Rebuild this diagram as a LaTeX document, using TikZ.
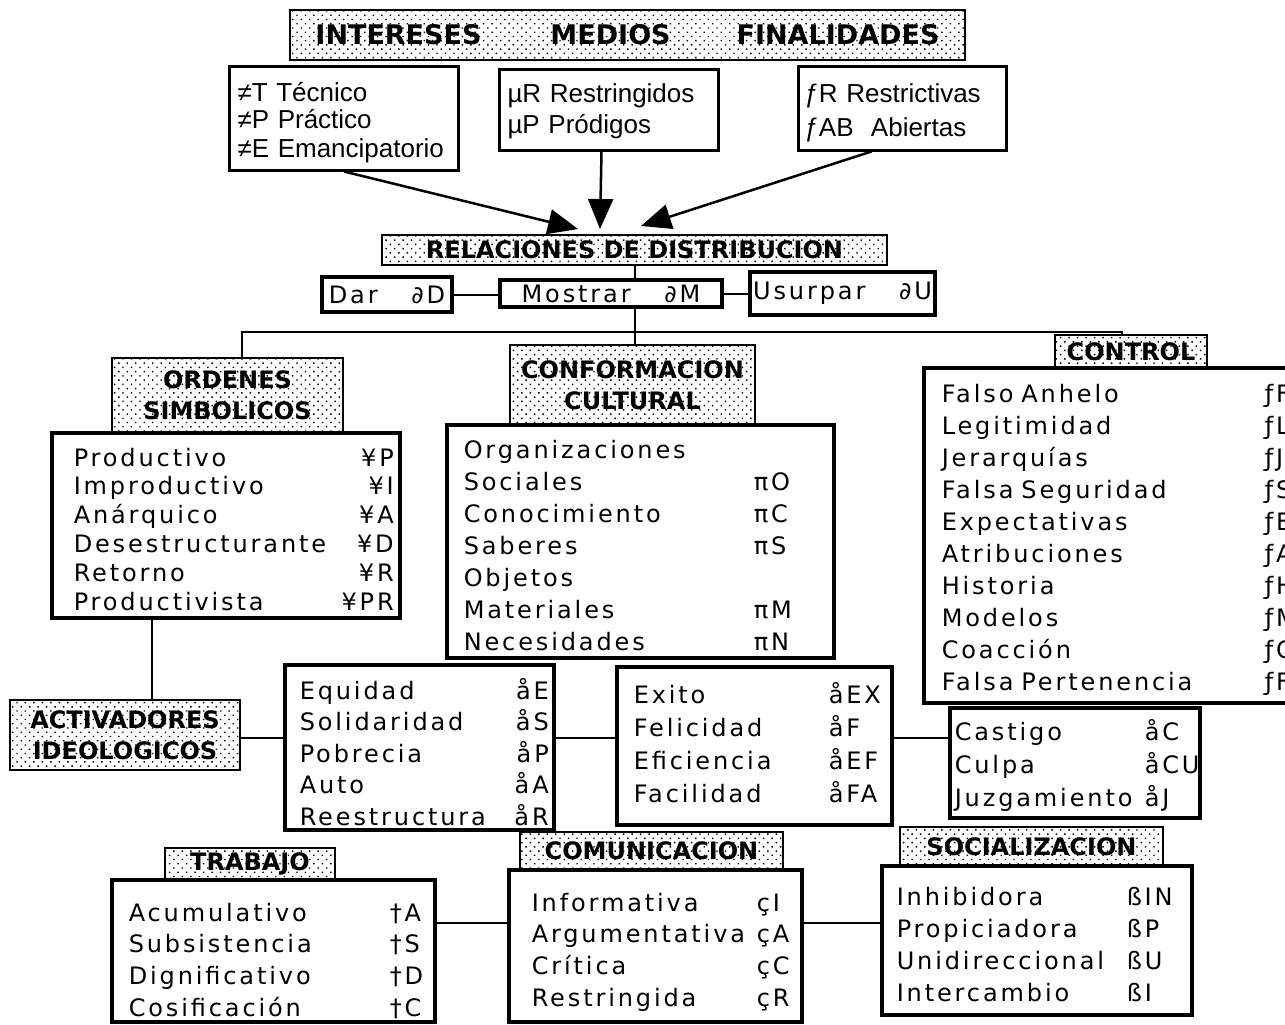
\documentclass[tikz,border=0pt]{standalone}
\usepackage{fontspec}
\setmainfont{DejaVu Sans}
\newfontfamily\listfont{DejaVu Sans}[LetterSpace=12, WordSpace=1.6]
\newfontfamily\topfont{Liberation Sans}
\usetikzlibrary{arrows.meta,patterns.meta}

% one line of a list: name, then its code in a column
\def\colancho{0pt}
\newcommand{\fila}[2]{\makebox[\colancho][l]{#1}#2}
\newcommand{\filad}[2]{\makebox[\colancho]{#1\hfill#2}}

\tikzset{
  linea/.style={line width=2pt},
  flecha/.style={line width=2.5pt, -{Triangle[length=30pt,width=25pt]}},
  cabeza/.style={draw, line width=2pt, fill=white,
    postaction={pattern={Dots[distance=6pt,radius=1pt,angle=45]}},
    inner sep=0pt, align=center, font=\bfseries\fontsize{24}{31}\selectfont},
  lista/.style={draw, line width=3.5pt, fill=white, anchor=base west,
    inner ysep=0pt, align=left, font=\listfont\fontsize{24}{32}\selectfont},
  arriba/.style={lista, line width=3pt, font=\topfont\fontsize{26}{28}\selectfont},
  chico/.style={draw, line width=3.5pt, fill=white, inner sep=0pt,
    font=\listfont\fontsize{24}{28}\selectfont}
}

\begin{document}
\begin{tikzpicture}[x=1pt,y=-1pt]
\useasboundingbox (0,0) rectangle (1285,1025);
\clip (0,0) rectangle (1285,1025);

% top row
\node[cabeza, minimum width=675, minimum height=50, font=\bfseries\fontsize{27}{30}\selectfont] (tit) at (627.5,35)
  {INTERESES\hspace{69pt}MEDIOS\hspace{66pt}FINALIDADES};
\node[arriba, inner xsep=8pt, text width=213pt, text height=34pt, text depth=69pt] (inter) at (228,101)
  {≠T Técnico\\ ≠P Práctico\\ ≠E Emancipatorio};
\node[arriba, font=\topfont\fontsize{26}{32}\selectfont, inner xsep=8pt, text width=203pt, text height=32pt, text depth=48pt] (medi) at (498,102)
  {µR Restringidos\\ µP Pródigos};
\node[arriba, font=\topfont\fontsize{26}{34}\selectfont, inner xsep=6pt, text width=196pt, text height=35pt, text depth=48pt] (fina) at (797,102)
  {ƒR Restrictivas\\ ƒAB\ \ Abiertas};

\coordinate (llegaI) at (578,229);
\coordinate (llegaM) at (600,229);
\coordinate (llegaF) at (641,226);
\draw[flecha] (inter.south) -- (llegaI);
\draw[flecha] ([xshift=-7.5pt]medi.south) -- (llegaM);
\draw[flecha] ([xshift=-31pt]fina.south) -- (llegaF);

% relaciones de distribucion
\node[cabeza, minimum width=505, minimum height=30] (rel) at (634.5,250) {RELACIONES DE DISTRIBUCION};
\node[chico, minimum width=130, minimum height=35] (dar) at (387,294.5) {Dar\ \ ∂D};
\node[chico, minimum width=222, minimum height=27] (most) at (611,293.5) {Mostrar\ \ ∂M};
\node[chico, minimum width=185, minimum height=43] (usur) at (842.5,293.5) {Usurpar\ \ ∂U};

\draw[linea] (dar.east) -- (dar.east -| most.west);
\draw[linea] (most.east) -- (most.east -| usur.west);
\draw[linea] (rel.south) -- (rel.south |- most.north);

% headers of the second level
\node[cabeza, minimum width=231, minimum height=74] (ordh) at (227.5,395) {ORDENES\\SIMBOLICOS};
\node[cabeza, minimum width=245, minimum height=80] (confh) at (632.5,385) {CONFORMACION\\CULTURAL};
\node[cabeza, minimum width=152, minimum height=33] (ctrlh) at (1131,351.5) {CONTROL};

\coordinate (esquina) at (1122,332);
\draw[linea] ([xshift=14.5pt]ordh.north) |- (esquina) -- (esquina |- ctrlh.north);
\draw[linea] (rel.south |- most.south) -- (rel.south |- confh.north);

\node[lista, font=\listfont\fontsize{24}{28.8}\selectfont, inner xsep=22pt, text width=304pt, text height=33pt, text depth=152pt] (ord) at (50,466)
  {\def\colancho{320pt}\filad{Productivo}{¥P}\\ \filad{Improductivo}{¥I}\\ \filad{Anárquico}{¥A}\\
   \filad{Desestructurante}{¥D}\\ \filad{Retorno}{¥R}\\ \filad{Productivista}{¥PR}};
\node[lista, inner xsep=17pt, text width=353pt, text height=33pt, text depth=200pt] (conf) at (445,458)
  {\def\colancho{290pt}\fila{Organizaciones}{}\\ \fila{Sociales}{πO}\\ \fila{Conocimiento}{πC}\\
   \fila{Saberes}{πS}\\ \fila{Objetos}{}\\ \fila{Materiales}{πM}\\ \fila{Necesidades}{πN}};
\node[lista, inner xsep=18pt, text width=342pt, text height=34pt, text depth=301pt] (ctrl) at (922,402)
  {\def\colancho{323pt}\fila{Falso Anhelo}{ƒFA}\\ \fila{Legitimidad}{ƒL}\\ \fila{Jerarquías}{ƒJ}\\
   \fila{Falsa Seguridad}{ƒS}\\ \fila{Expectativas}{ƒE}\\ \fila{Atribuciones}{ƒA}\\ \fila{Historia}{ƒH}\\
   \fila{Modelos}{ƒM}\\ \fila{Coacción}{ƒC}\\ \fila{Falsa Pertenencia}{ƒFP}};

% activadores ideologicos
\node[cabeza, minimum width=230, minimum height=70] (activ) at (125,735) {ACTIVADORES\\IDEOLOGICOS};
\node[lista, font=\listfont\fontsize{24}{31.5}\selectfont, inner xsep=15pt, text width=239pt, text height=34pt, text depth=131pt] (valo) at (283,699)
  {\def\colancho{249pt}\filad{Equidad}{åE}\\ \filad{Solidaridad}{åS}\\ \filad{Pobrecia}{åP}\\
   \filad{Auto}{åA}\\ \filad{Reestructura}{åR}};
\node[lista, font=\listfont\fontsize{24}{33}\selectfont, inner xsep=17pt, text width=241pt, text height=36pt, text depth=122pt] (logr) at (615,703)
  {\def\colancho{195pt}\fila{Exito}{åEX}\\ \fila{Felicidad}{åF}\\ \fila{Eficiencia}{åEF}\\ \fila{Facilidad}{åFA}};
\node[lista, font=\listfont\fontsize{24}{33}\selectfont, inner xsep=5pt, text width=240pt, text height=32pt, text depth=78pt] (sanc) at (948,740)
  {\def\colancho{190pt}\fila{Castigo}{åC}\\ \fila{Culpa}{åCU}\\ \fila{Juzgamiento}{åJ}};

\coordinate (fila) at (0,738);
\draw[linea] ([xshift=27pt]activ.north) -- ([xshift=27pt]activ.north |- ord.south);
\draw[linea] (activ.east |- fila) -- (valo.west |- fila);
\draw[linea] (valo.east |- fila) -- (logr.west |- fila);
\draw[linea] (logr.east |- fila) -- (sanc.west |- fila);

% bottom row
\node[cabeza, minimum width=170, minimum height=32] (trabh) at (250,864) {TRABAJO};
\node[cabeza, minimum width=263, minimum height=38] (comuh) at (651.5,851) {COMUNICACION};
\node[cabeza, minimum width=263, minimum height=39] (socih) at (1031.5,846.5) {SOCIALIZACION};

\node[lista, font=\listfont\fontsize{24}{31.7}\selectfont, inner xsep=17pt, text width=289pt, text height=41pt, text depth=101pt] (trab) at (110,921)
  {\def\colancho{261pt}\fila{Acumulativo}{†A}\\ \fila{Subsistencia}{†S}\\ \fila{Dignificativo}{†D}\\ \fila{Cosificación}{†C}};
\node[lista, font=\listfont\fontsize{24}{31.7}\selectfont, inner xsep=23pt, text width=247pt, text height=41pt, text depth=111pt] (comu) at (507,911)
  {\def\colancho{225pt}\fila{Informativa}{çI}\\ \fila{Argumentativa}{çA}\\ \fila{Crítica}{çC}\\ \fila{Restringida}{çR}};
\node[lista, inner xsep=15pt, text width=280pt, text height=39pt, text depth=110pt] (soci) at (880,905)
  {\def\colancho{230pt}\fila{Inhibidora}{ßIN}\\ \fila{Propiciadora}{ßP}\\ \fila{Unidireccional}{ßU}\\ \fila{Intercambio}{ßI}};

\coordinate (fila2) at (0,923);
\draw[linea] (trab.east |- fila2) -- (comu.west |- fila2);
\draw[linea] (comu.east |- fila2) -- (soci.west |- fila2);
\end{tikzpicture}
\end{document}
